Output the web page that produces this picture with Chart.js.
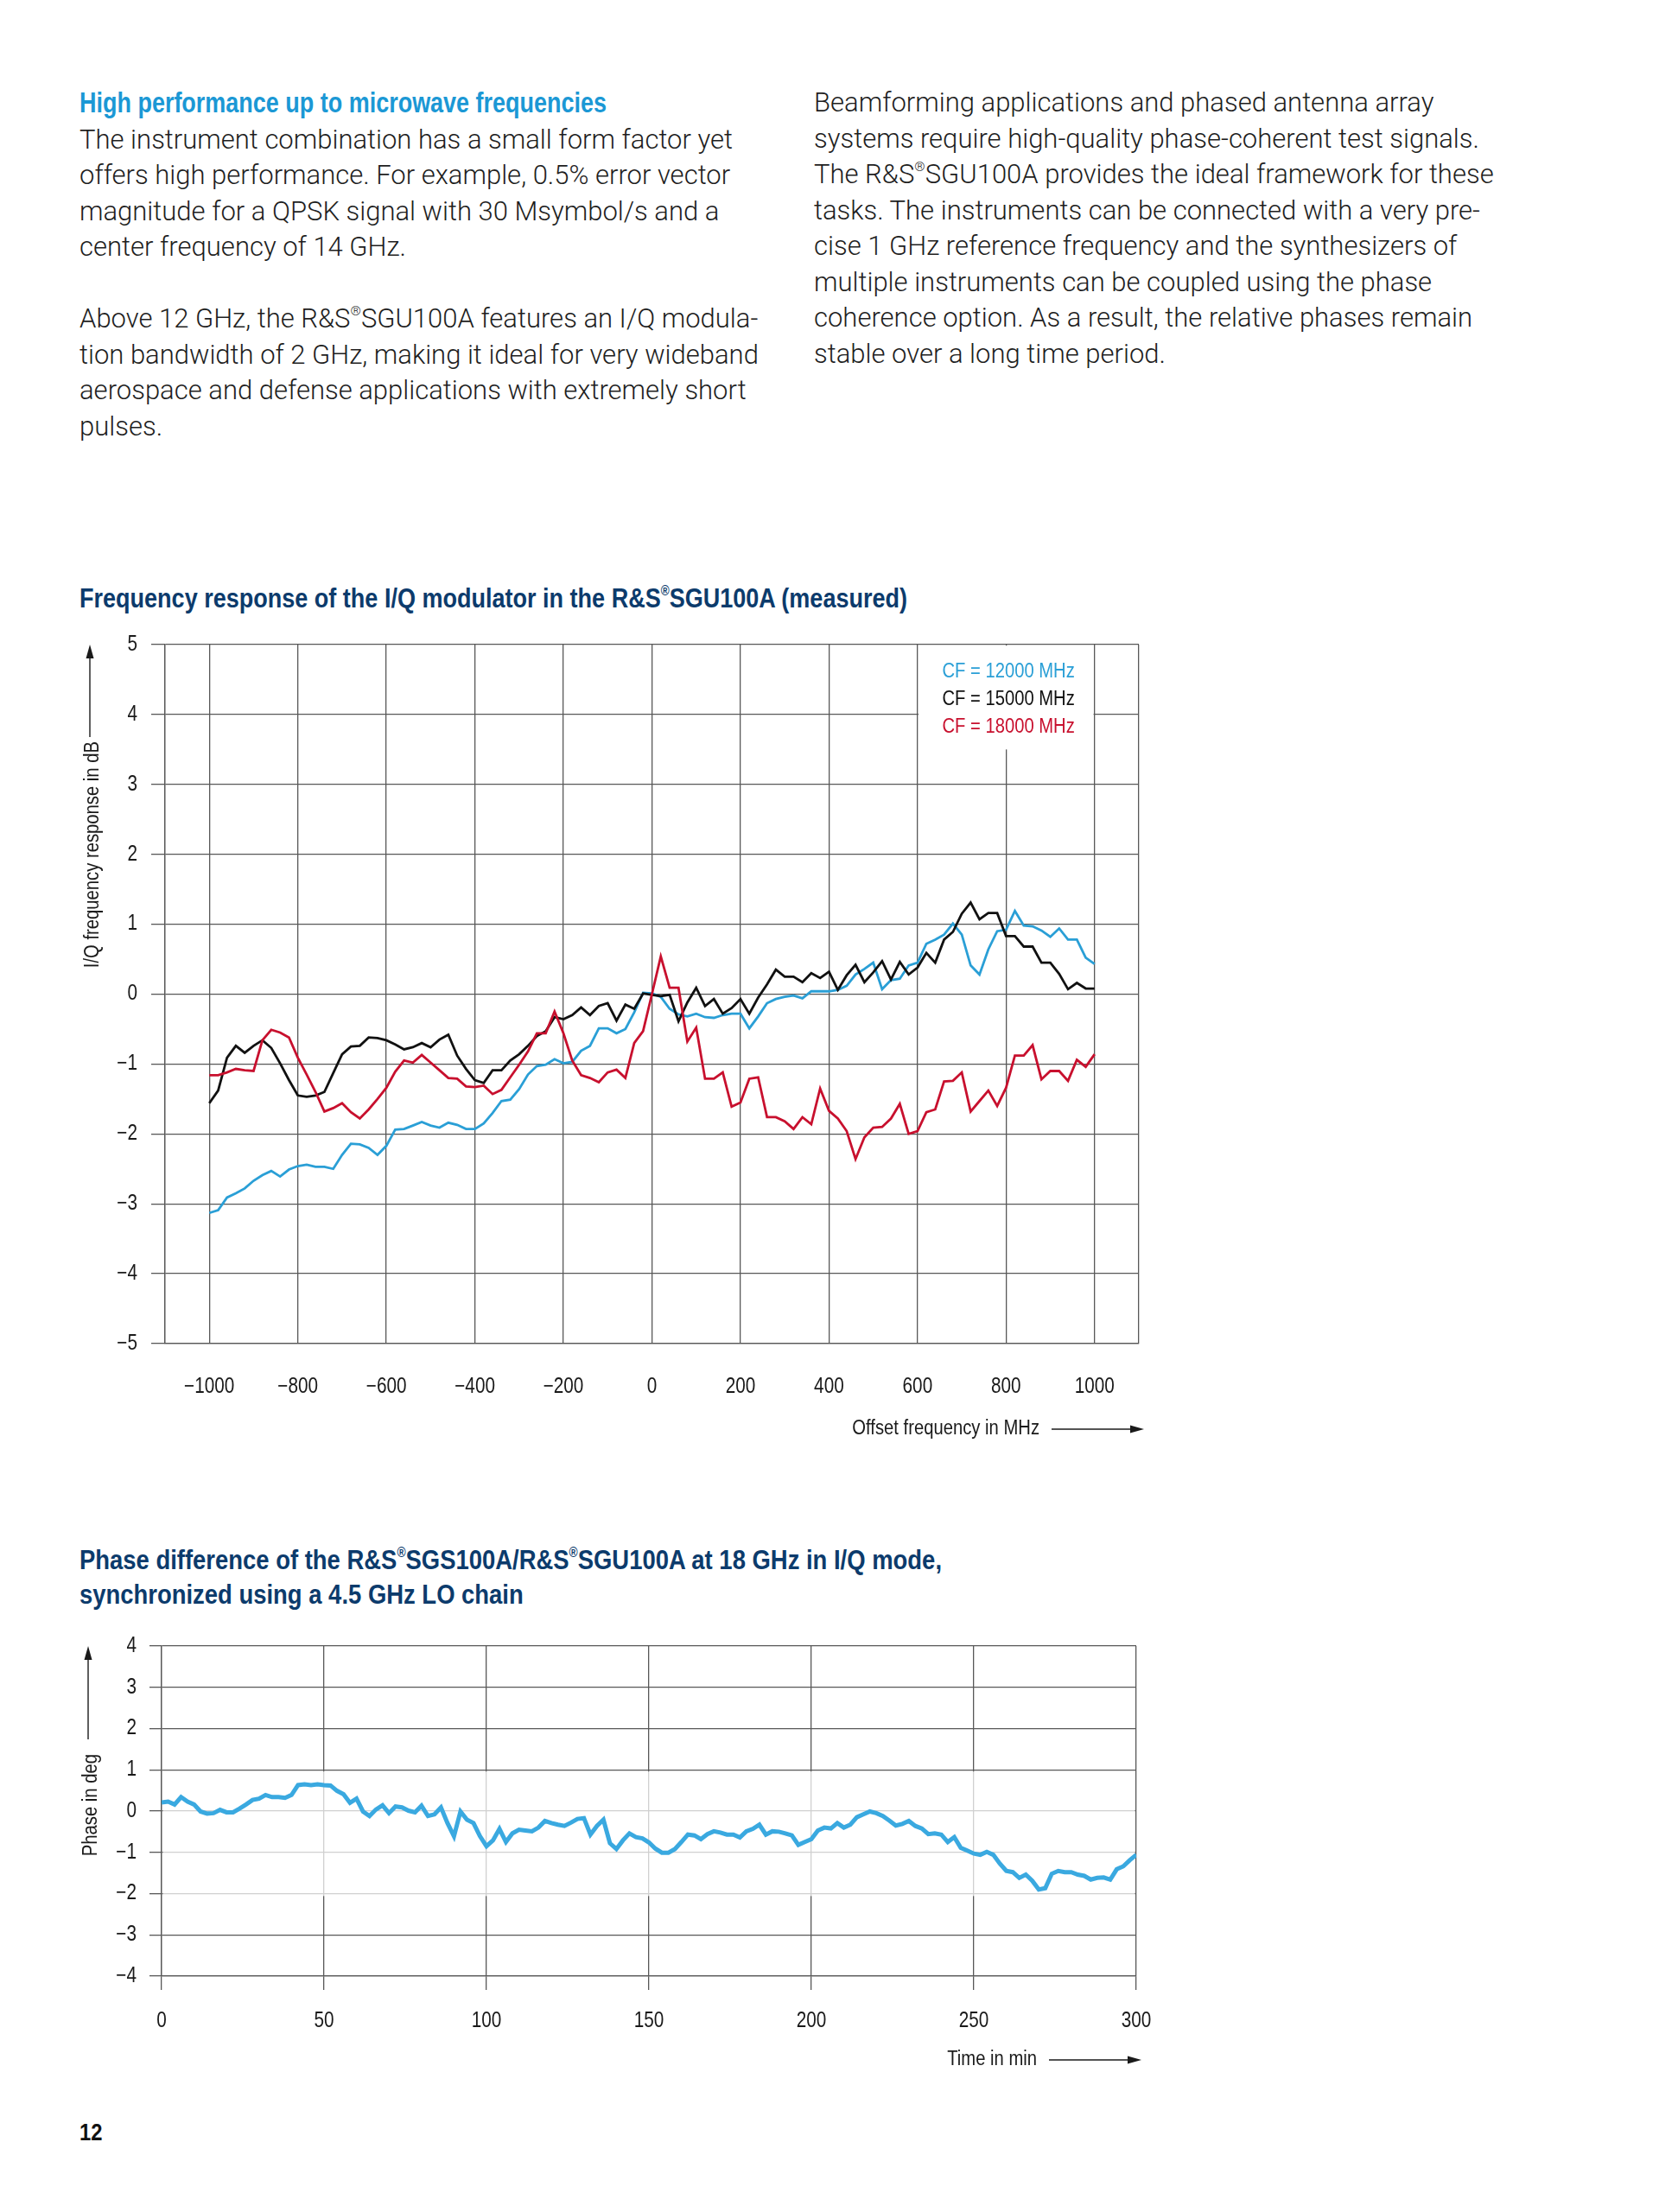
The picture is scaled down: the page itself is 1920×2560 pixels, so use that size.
<!DOCTYPE html>
<html>
<head>
<meta charset="utf-8">
<script src="https://cdn.jsdelivr.net/npm/chart.js@4.4.1/dist/chart.umd.min.js"></script>
<style>
body { margin: 0; background: #fff; width: 1920px; height: 2560px; position: relative; }
.txt { position: absolute; top: 98px; font-family: Roboto, 'Liberation Sans', sans-serif; font-weight: 300;
       font-size: 31px; line-height: 41.5px; color: #1e1e1e; white-space: nowrap; }
.head { display: inline-block; font-family: 'Liberation Sans', Arial, sans-serif; font-weight: 700;
        font-size: 33px; color: #1b98d5; transform-origin: 0 50%; }
.ctitle { position: absolute; left: 92px; font-family: 'Liberation Sans', Arial, sans-serif;
          font-weight: 700; font-size: 32px; line-height: 40px; color: #0c3b6c; white-space: nowrap; transform-origin: 0 0; }
sup { font-size: 0.5em; line-height: 0; vertical-align: 0.9em; }
canvas { position: absolute; left: 0; }
.pageno { position: absolute; left: 92px; top: 2452px; font-family: 'Liberation Sans', Arial, sans-serif;
          font-weight: 700; font-size: 28px; color: #111; transform: scaleX(0.85); transform-origin: 0 0; }
</style>
</head>
<body>

<div class="txt" style="left:92px">
<span class="head" data-fit="610">High performance up to microwave frequencies</span><br>
The instrument combination has a small form factor yet<br>
offers high performance. For example, 0.5% error vector<br>
magnitude for a QPSK signal with 30 Msymbol/s and a<br>
center frequency of 14 GHz.<br>
<br>
Above 12 GHz, the R&amp;S<sup>®</sup>SGU100A features an I/Q modula-<br>
tion bandwidth of 2 GHz, making it ideal for very wideband<br>
aerospace and defense applications with extremely short<br>
pulses.
</div>

<div class="txt" style="left:942px">
Beamforming applications and phased antenna array<br>
systems require high-quality phase-coherent test signals.<br>
The R&amp;S<sup>®</sup>SGU100A provides the ideal framework for these<br>
tasks. The instruments can be connected with a very pre-<br>
cise 1 GHz reference frequency and the synthesizers of<br>
multiple instruments can be coupled using the phase<br>
coherence option. As a result, the relative phases remain<br>
stable over a long time period.
</div>

<div class="ctitle" data-fit="958" style="top:672px">Frequency response of the I/Q modulator in the R&amp;S<sup>®</sup>SGU100A (measured)</div>
<canvas id="freqChart" width="1400" height="1000" style="top:720px"></canvas>

<div class="ctitle" data-fit="998" style="top:1785px">Phase difference of the R&amp;S<sup>®</sup>SGS100A/R&amp;S<sup>®</sup>SGU100A at 18 GHz in I/Q mode,<br>synchronized using a 4.5 GHz LO chain</div>
<canvas id="phaseChart" width="1400" height="560" style="top:1880px"></canvas>

<div class="pageno">12</div>

<script>
// chart 1: frequency response (dB) vs offset frequency (MHz)
const freqMHz = [-1000, -980, -960, -940, -920, -900, -880, -860, -840, -820, -800, -780, -760, -740, -720, -700,
  -680, -660, -640, -620, -600, -580, -560, -540, -520, -500, -480, -460, -440, -420, -400, -380, -360, -340, -320,
  -300, -280, -260, -240, -220, -200, -180, -160, -140, -120, -100, -80, -60, -40, -20, 0, 20, 40, 60, 80, 100, 120,
  140, 160, 180, 200, 220, 240, 260, 280, 300, 320, 340, 360, 380, 400, 420, 440, 460, 480, 500, 520, 540, 560, 580,
  600, 620, 640, 660, 680, 700, 720, 740, 760, 780, 800, 820, 840, 860, 880, 900, 920, 940, 960, 980, 1000];

const cf12000 = [-3.13, -3.09, -2.91, -2.85, -2.78, -2.67, -2.59, -2.53, -2.61, -2.51, -2.46, -2.44, -2.47, -2.47,
  -2.50, -2.30, -2.14, -2.15, -2.20, -2.30, -2.17, -1.94, -1.93, -1.88, -1.83, -1.88, -1.91, -1.84, -1.87, -1.93,
  -1.93, -1.85, -1.70, -1.53, -1.51, -1.36, -1.15, -1.03, -1.01, -0.93, -0.99, -0.97, -0.81, -0.74, -0.49, -0.49,
  -0.56, -0.50, -0.26, 0.02, 0.01,
  -0.04, -0.21, -0.29, -0.32, -0.28, -0.33, -0.34, -0.30, -0.28, -0.28, -0.49, -0.32, -0.13, -0.07, -0.04, -0.02,
  -0.06, 0.04, 0.04, 0.04, 0.06, 0.12, 0.28, 0.36, 0.45, 0.07, 0.20, 0.22, 0.41, 0.45, 0.72, 0.78, 0.85, 1.01, 0.85,
  0.41, 0.28, 0.64, 0.90, 0.92, 1.19, 0.98, 0.97, 0.91, 0.82, 0.94, 0.78, 0.78, 0.52, 0.43];

const cf15000 = [-1.56, -1.38, -0.91, -0.74, -0.84, -0.74, -0.66, -0.77, -0.99, -1.23, -1.45, -1.47, -1.45, -1.40,
  -1.13, -0.86, -0.75, -0.74, -0.62, -0.63, -0.66, -0.72, -0.79, -0.76, -0.70, -0.76, -0.65, -0.58, -0.88, -1.07,
  -1.23, -1.27, -1.09, -1.09, -0.95, -0.86, -0.74, -0.60, -0.53, -0.33, -0.36, -0.30, -0.19, -0.30, -0.17, -0.13,
  -0.38, -0.15, -0.21, 0.01, -0.01,
  -0.03, -0.01, -0.39, -0.12, 0.09, -0.17, -0.07, -0.28, -0.20, -0.07, -0.28, -0.05, 0.14, 0.35, 0.25, 0.25, 0.17,
  0.30, 0.23, 0.32, 0.06, 0.27, 0.42, 0.17, 0.31, 0.47, 0.21, 0.46, 0.28, 0.38, 0.59, 0.45, 0.78, 0.89, 1.15, 1.31,
  1.07, 1.16, 1.16, 0.83, 0.83, 0.68, 0.68, 0.45, 0.45, 0.29, 0.07, 0.16, 0.08, 0.08];

const cf18000 = [-1.16, -1.16, -1.12, -1.07, -1.09, -1.10, -0.66, -0.51, -0.55, -0.62, -0.91, -1.15, -1.40, -1.68,
  -1.63, -1.56, -1.69, -1.78, -1.65, -1.50, -1.34, -1.11, -0.95, -0.98, -0.87, -0.98, -1.09, -1.20, -1.21, -1.32,
  -1.33, -1.31, -1.43, -1.37, -1.19, -1.01, -0.82, -0.56, -0.56, -0.25, -0.56, -0.95, -1.16, -1.20, -1.26, -1.12,
  -1.08, -1.20, -0.70, -0.53, 0.00,
  0.54, 0.09, 0.09, -0.68, -0.48, -1.21, -1.21, -1.12, -1.61, -1.55, -1.21, -1.19, -1.76, -1.76, -1.82, -1.93, -1.76,
  -1.86, -1.35, -1.67, -1.78, -1.96, -2.36, -2.05, -1.91, -1.90, -1.78, -1.57, -2.00, -1.96, -1.69, -1.65, -1.25,
  -1.24, -1.12, -1.68, -1.53, -1.38, -1.60, -1.34, -0.88, -0.88, -0.73, -1.22, -1.10, -1.10, -1.24, -0.94, -1.04, -0.86];

const seriesLabels = ['CF = 12000 MHz', 'CF = 15000 MHz', 'CF = 18000 MHz'];
const freqTicks = [-1000, -800, -600, -400, -200, 0, 200, 400, 600, 800, 1000];
const freqRange = [-1100, 1100];
const dbTicks = [-5, -4, -3, -2, -1, 0, 1, 2, 3, 4, 5];

// chart 2: phase difference (deg) over time (min)
const timeMin = [0, 2, 4, 6, 8, 10, 12, 14, 16, 18, 20, 22, 24, 26, 28, 30, 32, 34, 36, 38, 40, 42, 44, 46, 48, 50,
  52, 54, 56, 58, 60, 62, 64, 66, 68, 70, 72, 74, 76, 78, 80, 82, 84, 86, 88, 90, 92, 94, 96, 98, 100, 102, 104, 106,
  108, 110, 112, 114, 116, 118, 120, 122, 124, 126, 128, 130, 132, 134, 136, 138, 140, 142, 144, 146, 148, 150, 152,
  154, 156, 158, 160, 162, 164, 166, 168, 170, 172, 174, 176, 178, 180, 182, 184, 186, 188, 190, 192, 194, 196, 198,
  200, 202, 204, 206, 208, 210, 212, 214, 216, 218, 220, 222, 224, 226, 228, 230, 232, 234, 236, 238, 240, 242, 244,
  246, 248, 250, 252, 254, 256, 258, 260, 262, 264, 266, 268, 270, 272, 274, 276, 278, 280, 282, 284, 286, 288, 290,
  292, 294, 296, 298, 300];

const phaseDeg = [0.21, 0.23, 0.16, 0.34, 0.23, 0.16, -0.01, -0.06, -0.05, 0.03,
  -0.03, -0.03, 0.06, 0.16, 0.27, 0.30, 0.39, 0.34, 0.34, 0.32,
  0.39, 0.63, 0.65, 0.63, 0.65, 0.63, 0.62, 0.49, 0.41, 0.20,
  0.30, -0.01, -0.12, 0.04, 0.14, -0.05, 0.11, 0.09, 0.01, -0.03,
  0.13, -0.12, -0.08, 0.09, -0.29, -0.61, -0.01, -0.21, -0.29, -0.61,
  -0.85, -0.71, -0.43, -0.75, -0.54, -0.45, -0.47, -0.49, -0.40, -0.24,
  -0.29, -0.33, -0.36, -0.28, -0.19, -0.17, -0.57, -0.36, -0.21, -0.78,
  -0.92, -0.71, -0.54, -0.63, -0.66, -0.76, -0.91, -1.01, -1.01, -0.92,
  -0.75, -0.57, -0.59, -0.68, -0.56, -0.49, -0.52, -0.57, -0.57, -0.64,
  -0.49, -0.43, -0.33, -0.57, -0.49, -0.50, -0.54, -0.59, -0.82, -0.75,
  -0.68, -0.47, -0.40, -0.42, -0.29, -0.40, -0.33, -0.15, -0.08, -0.01,
  -0.05, -0.12, -0.23, -0.35, -0.31, -0.24, -0.36, -0.42, -0.56, -0.54,
  -0.57, -0.75, -0.63, -0.89, -0.96, -1.03, -1.06, -0.99, -1.06, -1.27,
  -1.45, -1.48, -1.62, -1.54, -1.69, -1.90, -1.87, -1.52, -1.45, -1.48,
  -1.48, -1.54, -1.57, -1.66, -1.62, -1.61, -1.66, -1.41, -1.34, -1.19,
  -1.06];

const timeTicks = [0, 50, 100, 150, 200, 250, 300];
const degTicks = [-4, -3, -2, -1, 0, 1, 2, 3, 4];

// squeeze the HTML titles to the condensed width of the original
document.querySelectorAll('[data-fit]').forEach(el => {
  const w = el.getBoundingClientRect().width;
  el.style.transform = 'scaleX(' + (el.dataset.fit / w) + ')';
});

const FONT = "'Liberation Sans', Arial, sans-serif";
const GRID = '#585858';
const minus = v => String(v).replace('-', '\u2212');

// canvas text squeezed horizontally (stand-in for a condensed face)
function narrowText(ctx, text, x, y, align, size, sx) {
  ctx.save();
  ctx.translate(x, y);
  ctx.scale(sx, 1);
  ctx.font = size + 'px ' + FONT;
  ctx.textAlign = align;
  ctx.textBaseline = 'middle';
  ctx.fillText(text, 0, 0);
  ctx.restore();
}

// grid lightening band, legend box, tick labels, axis titles with arrows
const decor = {
  id: 'decor',
  beforeDatasetsDraw(chart, args, o) {
    const { ctx, chartArea: a, scales: { x, y } } = chart;
    ctx.save();
    if (o.band) {
      const t = y.getPixelForValue(o.band[0]), b = y.getPixelForValue(o.band[1]);
      ctx.fillStyle = 'rgba(255,255,255,0.72)';
      ctx.fillRect(a.left + 1.5, t, a.right - a.left - 3, b - t);
    }
    if (o.legendBox) {
      const l = x.getPixelForValue(o.legendBox[0]) + 1.2, r = x.getPixelForValue(o.legendBox[1]) - 1.2;
      const b = y.getPixelForValue(o.legendBox[2]);
      ctx.fillStyle = '#fff';
      ctx.fillRect(l, a.top + 1.2, r - l, b - a.top - 1.2);
      chart.data.datasets.forEach((d, i) => {
        ctx.fillStyle = d.borderColor;
        narrowText(ctx, d.label, x.getPixelForValue(1000) - 23, a.top + 32 + i * 32, 'right', 23.5, 0.86);
      });
    }
    ctx.restore();
  },
  afterDraw(chart, args, o) {
    const { ctx, chartArea: a, scales: { x, y } } = chart;
    ctx.save();
    ctx.fillStyle = '#1a1a1a';
    ctx.strokeStyle = '#1a1a1a';
    ctx.lineWidth = 1.4;
    // tick labels
    o.xTicks.forEach(v => narrowText(ctx, minus(v), x.getPixelForValue(v), a.bottom + o.xLabelDy, 'center', 25, 0.83));
    o.yTicks.forEach(v => narrowText(ctx, minus(v), o.yLabelRight, y.getPixelForValue(v), 'right', 25, 0.83));
    // x title + arrow to the right
    const tx = a.right - o.xGap, ty = a.bottom + o.xDy;
    narrowText(ctx, o.xTitle, tx, ty, 'right', 23, 0.88);
    const tip = a.right + 6;
    ctx.beginPath(); ctx.moveTo(tx + 14, ty); ctx.lineTo(tip - 12, ty); ctx.stroke();
    ctx.beginPath(); ctx.moveTo(tip, ty); ctx.lineTo(tip - 16, ty - 4.5); ctx.lineTo(tip - 16, ty + 4.5); ctx.closePath(); ctx.fill();
    // y title (rotated) + arrow upward
    const yx = a.left - o.yDx, yt = a.top + o.yTop;
    ctx.save();
    ctx.translate(yx, yt);
    ctx.rotate(-Math.PI / 2);
    narrowText(ctx, o.yTitle, 0, 0, 'right', 23, 0.88);
    ctx.restore();
    const ax = yx - 4, atip = a.top;
    ctx.beginPath(); ctx.moveTo(ax, yt - o.yGap); ctx.lineTo(ax, atip + 12); ctx.stroke();
    ctx.beginPath(); ctx.moveTo(ax, atip); ctx.lineTo(ax - 4.5, atip + 16); ctx.lineTo(ax + 4.5, atip + 16); ctx.closePath(); ctx.fill();
    ctx.restore();
  }
};

function fixedAxis(w, h) {
  return function (s) {
    if (w !== null) { s.width = w; }
    if (h !== null) { s.height = h; }
    s.paddingTop = 0; s.paddingBottom = 0; s.paddingLeft = 0; s.paddingRight = 0;
  };
}

new Chart(document.getElementById('freqChart'), {
  type: 'line',
  data: {
    datasets: [
      { label: seriesLabels[0], data: freqMHz.map((f, i) => ({ x: f, y: cf12000[i] })), borderColor: '#2a9fd6', order: 2 },
      { label: seriesLabels[1], data: freqMHz.map((f, i) => ({ x: f, y: cf15000[i] })), borderColor: '#111111', order: 1 },
      { label: seriesLabels[2], data: freqMHz.map((f, i) => ({ x: f, y: cf18000[i] })), borderColor: '#c8102e', order: 0 }
    ]
  },
  options: {
    responsive: false,
    animation: false,
    devicePixelRatio: 1,
    layout: { padding: { top: 26, right: 82, left: 0, bottom: 0 } },
    elements: { line: { borderWidth: 2.8, tension: 0 }, point: { radius: 0 } },
    scales: {
      x: {
        type: 'linear', min: freqRange[0], max: freqRange[1],
        afterBuildTicks: s => { s.ticks = [freqRange[0], ...freqTicks, freqRange[1]].map(v => ({ value: v })); },
        afterFit: fixedAxis(null, 165),
        grid: { color: GRID, lineWidth: 1.3, drawTicks: false },
        border: { color: GRID, width: 1.3 },
        ticks: { display: false }
      },
      y: {
        min: dbTicks[0], max: dbTicks[dbTicks.length - 1],
        afterBuildTicks: s => { s.ticks = dbTicks.map(v => ({ value: v })); },
        afterFit: fixedAxis(191, null),
        grid: { color: GRID, lineWidth: 1.3, tickLength: 16 },
        border: { color: GRID, width: 1.3 },
        ticks: { display: false }
      }
    },
    plugins: {
      legend: { display: false },
      tooltip: { enabled: false },
      decor: { legendBox: [600, 1000, 3.5], xTicks: freqTicks, yTicks: dbTicks, xLabelDy: 50, yLabelRight: 159,
               xTitle: 'Offset frequency in MHz', xGap: 115, xDy: 99,
               yTitle: 'I/Q frequency response in dB', yDx: 83, yTop: 112, yGap: 5 }
    }
  },
  plugins: [decor]
});

new Chart(document.getElementById('phaseChart'), {
  type: 'line',
  data: {
    datasets: [
      { label: 'Phase', data: timeMin.map((t, i) => ({ x: t, y: phaseDeg[i] })), borderColor: '#3aa9e0' }
    ]
  },
  options: {
    responsive: false,
    animation: false,
    devicePixelRatio: 1,
    layout: { padding: { top: 25, right: 85, left: 0, bottom: 0 } },
    elements: { line: { borderWidth: 5, tension: 0, borderJoinStyle: 'miter' }, point: { radius: 0 } },
    scales: {
      x: {
        type: 'linear', min: timeTicks[0], max: timeTicks[timeTicks.length - 1],
        afterBuildTicks: s => { s.ticks = timeTicks.map(v => ({ value: v })); },
        afterFit: fixedAxis(null, 153),
        grid: { color: GRID, lineWidth: 1.3, tickLength: 16 },
        border: { color: GRID, width: 1.3 },
        ticks: { display: false }
      },
      y: {
        min: degTicks[0], max: degTicks[degTicks.length - 1],
        afterBuildTicks: s => { s.ticks = degTicks.map(v => ({ value: v })); },
        afterFit: fixedAxis(187, null),
        grid: { color: GRID, lineWidth: 1.3, tickLength: 14 },
        border: { color: GRID, width: 1.3 },
        ticks: { display: false }
      }
    },
    plugins: {
      legend: { display: false },
      tooltip: { enabled: false },
      decor: { band: [0.96, -2.06], xTicks: timeTicks, yTicks: degTicks, xLabelDy: 52, yLabelRight: 158,
               xTitle: 'Time in min', xGap: 115, xDy: 97,
               yTitle: 'Phase in deg', yDx: 81, yTop: 125, yGap: 17 }
    }
  },
  plugins: [decor]
});
</script>
</body>
</html>
